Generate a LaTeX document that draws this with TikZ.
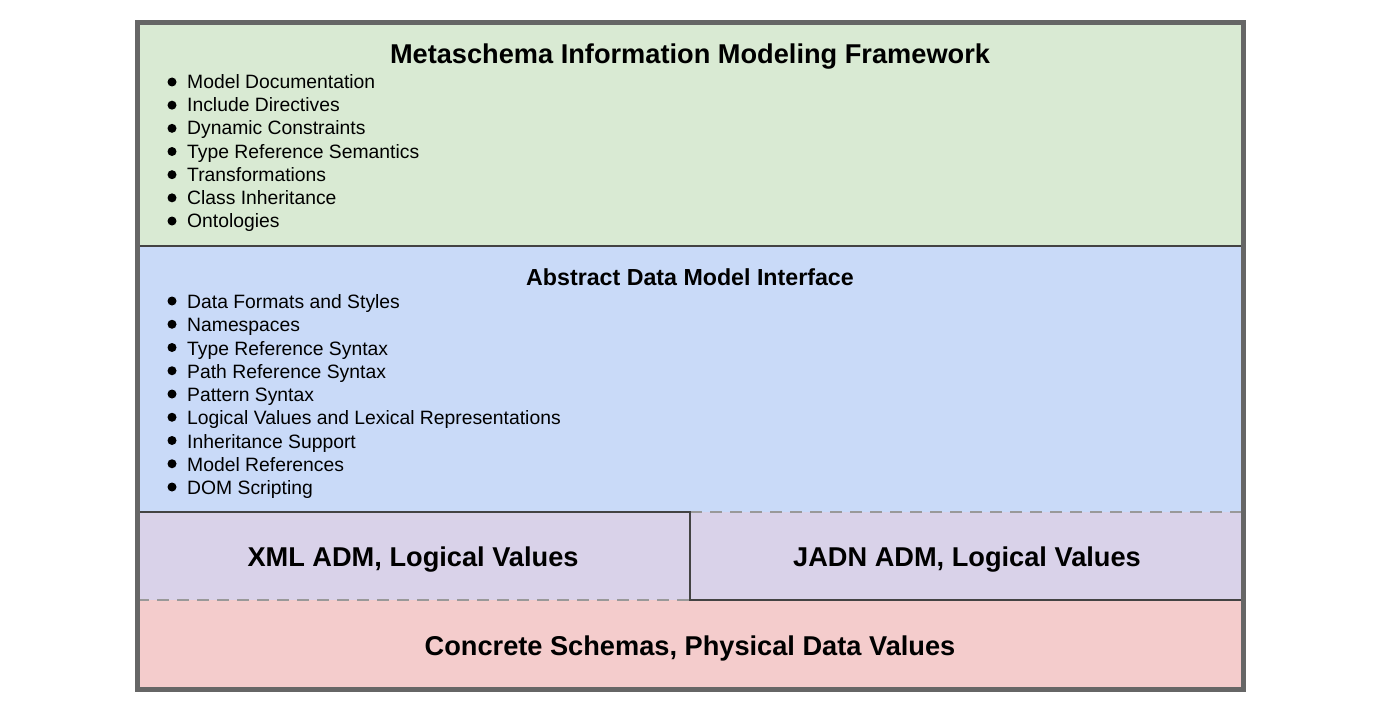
\documentclass[tikz,border=0pt]{standalone}
\usepackage{fontspec}
\setmainfont{Liberation Sans}
\definecolor{cgreen}{HTML}{D9EAD3}
\definecolor{cblue}{HTML}{C9DAF8}
\definecolor{cpurple}{HTML}{D9D2E9}
\definecolor{cred}{HTML}{F4CCCC}
\definecolor{cborder}{HTML}{666666}
\definecolor{cline}{HTML}{434343}
\definecolor{cdash}{HTML}{999999}
\begin{document}
\begin{tikzpicture}[x=1bp,y=-1bp,
  solidline/.style={draw=cline,line width=2.5bp},
  dashline/.style={draw=cdash,line width=2.5bp,dash pattern=on 12bp off 8bp},
  bigtitle/.style={inner sep=0pt,font=\fontsize{27.3}{30}\selectfont\bfseries},
  midtitle/.style={inner sep=0pt,font=\fontsize{23.3}{26}\selectfont\bfseries},
  item/.style={inner sep=0pt,anchor=base west,font=\fontsize{19.4}{22}\selectfont},
  dot/.style={circle,fill=black,inner sep=0pt,minimum size=9bp}
]
\useasboundingbox (0,0) rectangle (1385,714);
% regions
\fill[cgreen] (137,23) rectangle (1243,246);
\fill[cblue] (137,246) rectangle (1243,512);
\fill[cpurple] (137,512) rectangle (1243,600);
\fill[cred] (137,600) rectangle (1243,689);
% inner lines
\coordinate (gl) at (137,246); \coordinate (gr) at (1243,246);
\coordinate (bl) at (137,512); \coordinate (bm) at (690,512); \coordinate (br) at (1243,512);
\coordinate (pl) at (137,600); \coordinate (pm) at (690,600); \coordinate (pr) at (1243,600);
\draw[solidline] (gl) -- (gr);
\draw[dashline] (bm) -- (br);
\draw[dashline] (pl) -- (pm);
\draw[solidline] (bl) -- (bm) -- (pm) -- (pr);
% outer border
\draw[draw=cborder,line width=5bp] (137,23) rectangle (1243,689);
% titles
\node[bigtitle] (t1) at (690,57) {Metaschema Information Modeling Framework};
\node[midtitle] (t2) at (690,277) {Abstract Data Model Interface};
\node[bigtitle] (t3) at (413,560) {XML ADM, Logical Values};
\node[bigtitle] (t4) at (967,560) {JADN ADM, Logical Values};
\node[bigtitle] (t5) at (690,648) {Concrete Schemas, Physical Data Values};
% green bullets
\foreach \t [count=\i from 0] in {Model Documentation,Include Directives,Dynamic Constraints,Type Reference Semantics,Transformations,Class Inheritance,Ontologies}{
  \node[dot] (gd\i) at (172,{82+23.17*\i}) {};
  \node[item] (gi\i) at (187,{88.5+23.17*\i}) {\t};
}
% blue bullets
\foreach \t [count=\i from 0] in {Data Formats and Styles,Namespaces,Type Reference Syntax,Path Reference Syntax,Pattern Syntax,Logical Values and Lexical Representations,Inheritance Support,Model References,DOM Scripting}{
  \node[dot] (bd\i) at (172,{301+23.25*\i}) {};
  \node[item] (bi\i) at (187,{308.5+23.25*\i}) {\t};
}
\end{tikzpicture}
\end{document}
